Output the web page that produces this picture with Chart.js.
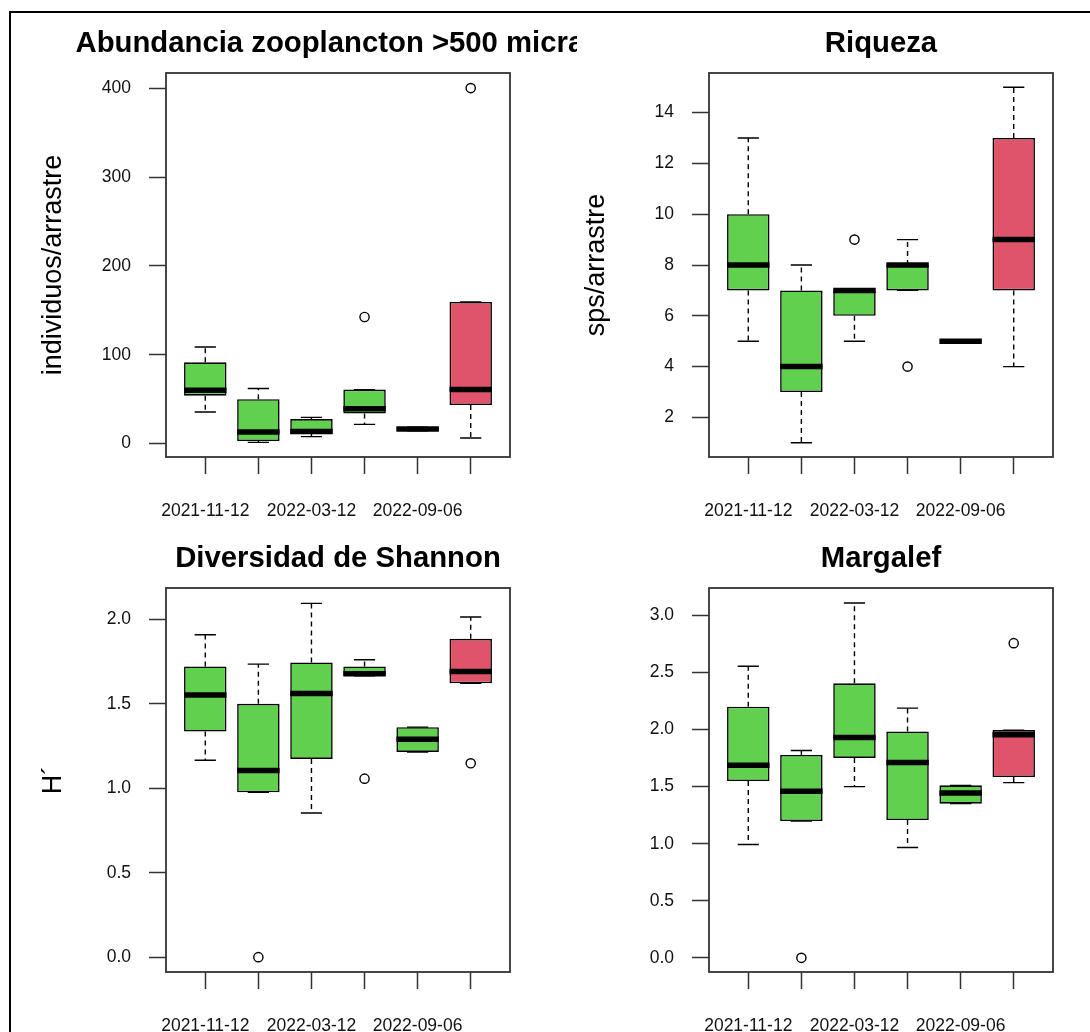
<!DOCTYPE html>
<html>
<head>
<meta charset="utf-8">
<title>Zooplancton boxplots</title>
<script src="https://cdn.jsdelivr.net/npm/chart.js@4.4.0/dist/chart.umd.min.js"></script>
<style>
  html, body { margin: 0; padding: 0; background: #fff; }
  #page { position: relative; width: 1090px; height: 1032px; overflow: hidden; background: #fff; }
  #frame { position: absolute; left: 9px; top: 11px; right: -10px; bottom: -10px;
           border-left: 2px solid #000; border-top: 2px solid #000; }
  canvas { position: absolute; }
  #c1 { left: 0; top: 0; }
  #c2 { left: 545px; top: 0; }
  #c3 { left: 0; top: 520px; }
  #c4 { left: 545px; top: 520px; }
</style>
</head>
<body>
<div id="page">
  <div id="frame"></div>
  <canvas id="c1" width="577" height="520"></canvas>
  <canvas id="c2" width="545" height="520"></canvas>
  <canvas id="c3" width="577" height="512"></canvas>
  <canvas id="c4" width="545" height="512"></canvas>
</div>
<script>
// groups (sampling dates); R only printed every other label
const groups = [1, 2, 3, 4, 5, 6];
const xTickLabels = ['2021-11-12', '', '2022-03-12', '', '2022-09-06', ''];
const GREEN = '#61D04F';
const RED = '#DF536B';
const boxColors = [GREEN, GREEN, GREEN, GREEN, GREEN, RED];

// each box: [lower whisker, Q1, median, Q3, upper whisker]
const abundancia = [
    [35.6, 54, 60, 91.5, 108.7],
    [1.5, 3, 13, 50, 62],
    [7.9, 10.8, 13.8, 27.7, 29.6],
    [21.7, 33.8, 39.4, 60.8, 60.8],
    [14.5, 14.5, 16.5, 18.5, 18.5],
    [6.3, 43.5, 61, 159.4, 159.4]
];
const abundanciaOut = [[4, 142.5], [6, 400]];
const abundanciaTicks = [0, 100, 200, 300, 400];
const abundanciaTickLabels = ['0', '100', '200', '300', '400'];

const riqueza = [
    [5, 7, 8, 10, 13],
    [1, 3, 4, 7, 8],
    [5, 6, 7, 7, 7],
    [7, 7, 8, 8, 9],
    [5, 5, 5, 5, 5],
    [4, 7, 9, 13, 15]
];
const riquezaOut = [[3, 9], [4, 4]];
const riquezaTicks = [2, 4, 6, 8, 10, 12, 14];
const riquezaTickLabels = ['2', '4', '6', '8', '10', '12', '14'];

const shannon = [
    [1.166, 1.336, 1.553, 1.721, 1.909],
    [0.976, 0.976, 1.105, 1.5, 1.735],
    [0.854, 1.174, 1.561, 1.745, 2.095],
    [1.666, 1.666, 1.678, 1.721, 1.761],
    [1.215, 1.215, 1.29, 1.362, 1.362],
    [1.622, 1.622, 1.692, 1.885, 2.014]
];
const shannonOut = [[2, 0], [4, 1.057], [6, 1.148]];
const shannonTicks = [0, 0.5, 1, 1.5, 2];
const shannonTickLabels = ['0.0', '0.5', '1.0', '1.5', '2.0'];

const margalef = [
    [0.993, 1.549, 1.687, 2.2, 2.554],
    [1.198, 1.198, 1.459, 1.778, 1.816],
    [1.5, 1.751, 1.93, 2.405, 3.108],
    [0.967, 1.207, 1.711, 1.983, 2.188],
    [1.351, 1.351, 1.444, 1.511, 1.511],
    [1.535, 1.584, 1.954, 1.995, 1.995]
];
const margalefOut = [[2, 0], [6, 2.757]];
const margalefTicks = [0, 0.5, 1, 1.5, 2, 2.5, 3];
const margalefTickLabels = ['0.0', '0.5', '1.0', '1.5', '2.0', '2.5', '3.0'];

const FONT = "'Liberation Sans', Arial, Helvetica, sans-serif";
const Y_AXIS_W = 120;
const X_AXIS_H = 60;
const BOX_W = 0.8;      // boxwex
const STAPLE_W = 0.4;   // staple width, in x units

Chart.defaults.font.family = FONT;

function boxplotPlugin(p) {
    return {
        id: 'boxplot_' + p.id,
        beforeDatasetsDraw(chart) {
            const ctx = chart.ctx;
            const xs = chart.scales.x, ys = chart.scales.y;
            ctx.save();
            ctx.strokeStyle = '#000';
            ctx.lineWidth = 1.4;
            p.boxes.forEach((b, i) => {
                const cx = xs.getPixelForValue(groups[i]);
                const sl = xs.getPixelForValue(groups[i] - STAPLE_W / 2);
                const sr = xs.getPixelForValue(groups[i] + STAPLE_W / 2);
                // dashed whiskers
                ctx.setLineDash([5, 4]);
                ctx.beginPath();
                ctx.moveTo(cx, ys.getPixelForValue(b[3]));
                ctx.lineTo(cx, ys.getPixelForValue(b[4]));
                ctx.moveTo(cx, ys.getPixelForValue(b[1]));
                ctx.lineTo(cx, ys.getPixelForValue(b[0]));
                ctx.stroke();
                // staples
                ctx.setLineDash([]);
                ctx.beginPath();
                ctx.moveTo(sl, ys.getPixelForValue(b[4]));
                ctx.lineTo(sr, ys.getPixelForValue(b[4]));
                ctx.moveTo(sl, ys.getPixelForValue(b[0]));
                ctx.lineTo(sr, ys.getPixelForValue(b[0]));
                ctx.stroke();
            });
            ctx.restore();
        },
        afterDatasetsDraw(chart) {
            const ctx = chart.ctx;
            const xs = chart.scales.x, ys = chart.scales.y;
            ctx.save();
            ctx.strokeStyle = '#000';
            ctx.lineWidth = 5.5;
            ctx.lineCap = 'butt';
            p.boxes.forEach((b, i) => {
                const l = xs.getPixelForValue(groups[i] - BOX_W / 2);
                const r = xs.getPixelForValue(groups[i] + BOX_W / 2);
                const y = ys.getPixelForValue(b[2]);
                ctx.beginPath();
                ctx.moveTo(l, y);
                ctx.lineTo(r, y);
                ctx.stroke();
            });
            ctx.restore();
        },
        afterDraw(chart) {
            const ctx = chart.ctx;
            const a = chart.chartArea;
            ctx.save();
            // plot frame
            ctx.strokeStyle = '#333';
            ctx.lineWidth = 1.8;
            ctx.strokeRect(a.left, a.top, a.right - a.left, a.bottom - a.top);
            // main title
            ctx.fillStyle = '#000';
            ctx.font = 'bold 29.3px ' + FONT;
            ctx.textAlign = 'center';
            ctx.textBaseline = 'alphabetic';
            ctx.fillText(p.title, (a.left + a.right) / 2, a.top - 21);
            // y axis title
            if (p.yTitle) {
                ctx.font = '27px ' + FONT;
                ctx.translate(a.left - 105, (a.top + a.bottom) / 2);
                ctx.rotate(-Math.PI / 2);
                ctx.fillText(p.yTitle, 0, 0);
            }
            ctx.restore();
        }
    };
}

function buildPanel(p) {
    const canvas = document.getElementById(p.id);
    const W = canvas.width, H = canvas.height;

    const boxData = p.boxes.map((b, i) => ({ x: groups[i], y: [b[1], b[3]] }));
    const outData = p.outliers.map(o => ({ x: o[0], y: o[1] }));

    return new Chart(canvas, {
        type: 'bar',
        data: {
            datasets: [
                {
                    data: boxData,
                    backgroundColor: boxColors,
                    borderColor: '#000',
                    borderWidth: 1.6,
                    borderSkipped: false,
                    barPercentage: BOX_W,
                    categoryPercentage: 1
                },
                {
                    type: 'scatter',
                    data: outData,
                    pointStyle: 'circle',
                    pointRadius: 4.6,
                    pointBackgroundColor: 'rgba(255,255,255,0)',
                    pointBorderColor: '#000',
                    pointBorderWidth: 1.4
                }
            ]
        },
        options: {
            responsive: false,
            animation: false,
            devicePixelRatio: 1,
            layout: {
                padding: {
                    left: p.area.left - Y_AXIS_W,
                    right: W - p.area.right,
                    top: p.area.top,
                    bottom: H - p.area.bottom - X_AXIS_H
                }
            },
            plugins: {
                legend: { display: false },
                tooltip: { enabled: false }
            },
            scales: {
                x: {
                    type: 'linear',
                    min: 0.26,
                    max: 6.74,
                    offset: false,
                    border: { display: false },
                    grid: {
                        offset: false,
                        drawOnChartArea: false,
                        drawTicks: true,
                        tickLength: 17,
                        tickColor: '#333',
                        tickWidth: 1.5
                    },
                    ticks: {
                        autoSkip: false,
                        maxRotation: 0,
                        padding: 27,
                        color: '#111',
                        font: { size: 17.5 },
                        callback: (v, i) => xTickLabels[i]
                    },
                    afterBuildTicks: s => { s.ticks = groups.map(v => ({ value: v })); },
                    afterFit: s => { s.height = X_AXIS_H; }
                },
                y: {
                    type: 'linear',
                    min: p.yMin,
                    max: p.yMax,
                    beginAtZero: false,
                    border: { display: false },
                    grid: {
                        drawOnChartArea: false,
                        drawTicks: true,
                        tickLength: 17,
                        tickColor: '#333',
                        tickWidth: 1.5
                    },
                    ticks: {
                        autoSkip: false,
                        padding: 18,
                        color: '#111',
                        font: { size: 17.5 },
                        callback: (v, i) => p.yTickLabels[i]
                    },
                    afterBuildTicks: s => { s.ticks = p.yTicks.map(v => ({ value: v })); },
                    afterFit: s => { s.width = Y_AXIS_W; }
                }
            }
        },
        plugins: [boxplotPlugin(p)]
    });
}

const panels = [
    {
        id: 'c1', title: 'Abundancia zooplancton >500 micras', yTitle: 'individuos/arrastre',
        boxes: abundancia, outliers: abundanciaOut, yMin: -15, yMax: 417,
        yTicks: abundanciaTicks, yTickLabels: abundanciaTickLabels,
        area: { left: 166, right: 510, top: 73, bottom: 457 }
    },
    {
        id: 'c2', title: 'Riqueza', yTitle: 'sps/arrastre',
        boxes: riqueza, outliers: riquezaOut, yMin: 0.44, yMax: 15.56,
        yTicks: riquezaTicks, yTickLabels: riquezaTickLabels,
        area: { left: 164, right: 508, top: 73, bottom: 457 }
    },
    {
        id: 'c3', title: 'Diversidad de Shannon', yTitle: 'H\u00B4',
        boxes: shannon, outliers: shannonOut, yMin: -0.088, yMax: 2.186,
        yTicks: shannonTicks, yTickLabels: shannonTickLabels,
        area: { left: 166, right: 510, top: 68, bottom: 452 }
    },
    {
        id: 'c4', title: 'Margalef', yTitle: '',
        boxes: margalef, outliers: margalefOut, yMin: -0.124, yMax: 3.24,
        yTicks: margalefTicks, yTickLabels: margalefTickLabels,
        area: { left: 164, right: 508, top: 68, bottom: 452 }
    }
];

panels.forEach(buildPanel);
</script>
</body>
</html>
